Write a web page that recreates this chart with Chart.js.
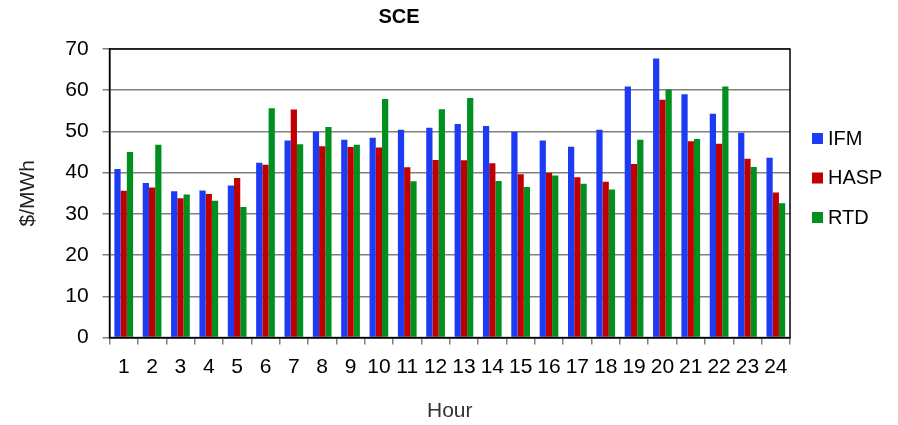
<!DOCTYPE html>
<html>
<head>
<meta charset="utf-8">
<script src="https://cdn.jsdelivr.net/npm/chart.js@4"></script>
<style>
  html, body { margin: 0; padding: 0; background: #fff; }
  #wrap { width: 898px; height: 425px; }
</style>
</head>
<body>
<div id="wrap"><canvas id="sce" width="898" height="425"></canvas></div>
<script>
const hours = ['1','2','3','4','5','6','7','8','9','10','11','12','13','14','15','16','17','18','19','20','21','22','23','24'];
const ifm  = [40.9, 37.5, 35.5, 35.7, 36.9, 42.4, 47.8, 49.9, 48.0, 48.5, 50.4, 50.9, 51.8, 51.3, 49.9, 47.8, 46.3, 50.4, 60.9, 67.7, 59.0, 54.3, 49.7, 43.6];
const hasp = [35.6, 36.4, 33.8, 34.8, 38.7, 41.9, 55.3, 46.4, 46.2, 46.1, 41.3, 43.1, 43.0, 42.3, 39.6, 39.9, 38.9, 37.8, 42.1, 57.7, 47.6, 47.0, 43.4, 35.2];
const rtd  = [45.0, 46.8, 34.7, 33.2, 31.7, 55.6, 46.9, 51.1, 46.8, 57.9, 37.9, 55.4, 58.1, 38.0, 36.5, 39.3, 37.3, 35.9, 48.0, 60.2, 48.2, 60.9, 41.4, 32.6];
const yTicks = [0, 10, 20, 30, 40, 50, 60, 70];

const FONT = '"Liberation Sans", Arial, sans-serif';

// frame round the plot area and a legend on the right
const framePlugin = {
    id: 'frame',
    afterDraw(chart) {
        const ctx = chart.ctx;
        const a = chart.chartArea;
        ctx.save();
        ctx.strokeStyle = '#000';
        ctx.lineWidth = 1.5;
        ctx.strokeRect(a.left, a.top, a.right - a.left, a.bottom - a.top);

        ctx.font = '20px ' + FONT;
        ctx.textBaseline = 'middle';
        chart.data.datasets.forEach((ds, i) => {
            const y = 138 + i * 39.5;
            ctx.fillStyle = ds.backgroundColor;
            ctx.fillRect(812, y - 5, 11, 11);
            ctx.fillStyle = '#000';
            ctx.fillText(ds.label, 828, y + 1);
        });
        ctx.restore();
    }
};

new Chart(document.getElementById('sce').getContext('2d'), {
    type: 'bar',
    data: {
        labels: hours,
        datasets: [
            { label: 'IFM',  data: ifm,  backgroundColor: '#1d3bf2' },
            { label: 'HASP', data: hasp, backgroundColor: '#c00000' },
            { label: 'RTD',  data: rtd,  backgroundColor: '#009020' }
        ]
    },
    options: {
        responsive: false,
        animation: false,
        layout: { padding: { left: 8, right: 108, top: 0, bottom: 0 } },
        datasets: { bar: { barPercentage: 1.0, categoryPercentage: 0.66 } },
        plugins: {
            legend: { display: false },
            tooltip: { enabled: false },
            title: {
                display: true,
                text: 'SCE',
                color: '#000',
                font: { family: FONT, size: 20, weight: 'bold' },
                padding: { top: 5, bottom: 20 }
            }
        },
        scales: {
            x: {
                grid: { offset: true, drawOnChartArea: false, color: '#808080', lineWidth: 1.5, tickLength: 7 },
                border: { color: '#000', width: 1.5 },
                ticks: { color: '#000', font: { family: FONT, size: 21 }, maxRotation: 0, autoSkip: false, padding: 10 },
                title: { display: true, text: 'Hour', color: '#333', font: { family: FONT, size: 21 }, padding: { top: 9, bottom: 1 } }
            },
            y: {
                min: yTicks[0],
                max: yTicks[yTicks.length - 1],
                afterBuildTicks(scale) { scale.ticks = yTicks.map(v => ({ value: v })); },
                grid: { color: '#808080', lineWidth: 1.5, tickLength: 7 },
                border: { color: '#000', width: 1.5 },
                ticks: { color: '#000', font: { family: FONT, size: 21 }, padding: 14 },
                title: { display: true, text: '$/MWh', color: '#222', font: { family: FONT, size: 21 }, padding: { top: 8, bottom: 10 } }
            }
        }
    },
    plugins: [framePlugin]
});
</script>
</body>
</html>
